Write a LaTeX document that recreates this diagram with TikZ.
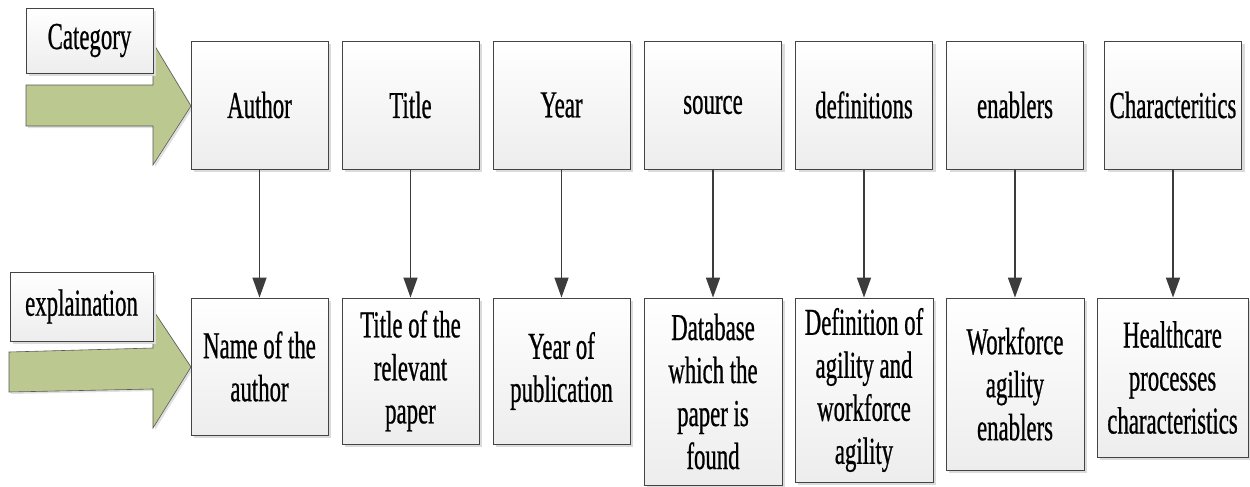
\documentclass[tikz,border=0pt]{standalone}
\usepackage{fontspec}
\setmainfont{Liberation Serif}[FakeStretch=0.6,FakeBold=0.6]
\usetikzlibrary{arrows.meta,shadows}
\definecolor{arrowgreen}{HTML}{BBC88F}
\definecolor{boxline}{HTML}{444444}
\definecolor{conn}{HTML}{3C3C3C}
\definecolor{boxbottom}{HTML}{EDEDED}
\begin{document}
\begin{tikzpicture}[x=1pt,y=-1pt,
  cell/.style={draw=boxline,line width=0.9pt,top color=white,bottom color=boxbottom,
    inner sep=0pt,align=center,font=\fontsize{38}{43}\selectfont,
    drop shadow={shadow xshift=3pt,shadow yshift=-3pt,fill=black!14,opacity=1}},
  bigarrow/.style={fill=arrowgreen,draw=gray!70!black,line width=0.6pt,
    drop shadow={shadow xshift=2pt,shadow yshift=-2pt,fill=black!12,opacity=1}},
  link/.style={draw=conn,line width=1.6pt,-{Triangle[length=20pt,width=14pt]}}]
\useasboundingbox (0,0) rectangle (1250,487);
% green arrows
\path[bigarrow] (26,85) -- (153,85) -- (153,43) -- (191,106) -- (153,165) -- (153,126) -- (26,126) -- cycle;
\path[bigarrow] (9,352) -- (153,348) -- (153,310) -- (191,367) -- (153,428) -- (153,389) -- (9,392) -- cycle;
% label boxes
\node[cell,minimum width=127pt,minimum height=65pt] (cat) at (89.5,40.5) {Category};
\node[cell,minimum width=143pt,minimum height=69pt] (expl) at (81.5,306.5) {explaination};
% top row
\begin{scope}[every node/.append style={cell,minimum width=137pt,minimum height=128pt}]
\node (t1) at (259.5,105) {Author};
\node (t2) at (410.5,105) {Title};
\node (t3) at (561.5,105) {Year};
\node (t4) at (713,105) {source};
\node (t5) at (864,105) {definitions};
\node (t6) at (1015,105) {enablers};
\node (t7) at (1173,105) {Characteritics};
\end{scope}
% bottom row
\node[cell,minimum width=137pt,minimum height=137pt] (b1) at (259.5,366.5) {Name of the\\author};
\node[cell,minimum width=137pt,minimum height=146pt] (b2) at (410.5,371) {Title of the\\relevant\\paper};
\node[cell,minimum width=137pt,minimum height=146pt] (b3) at (561.5,371) {Year of\\publication};
\node[cell,minimum width=138pt,minimum height=187pt] (b4) at (713,391.5) {Database\\which the\\paper is\\found};
\node[cell,minimum width=138pt,minimum height=184pt] (b5) at (864,390) {Definition of\\agility and\\workforce\\agility};
\node[cell,minimum width=138pt,minimum height=172pt] (b6) at (1015,384) {Workforce\\agility\\enablers};
\node[cell,minimum width=151pt,minimum height=159pt] (b7) at (1172.5,377.5) {Healthcare\\processes\\characteristics};
% connectors
\foreach \i in {1,...,7}{
  \draw[link] (t\i.south) -- (t\i.south |- b\i.north);
}
\end{tikzpicture}
\end{document}
